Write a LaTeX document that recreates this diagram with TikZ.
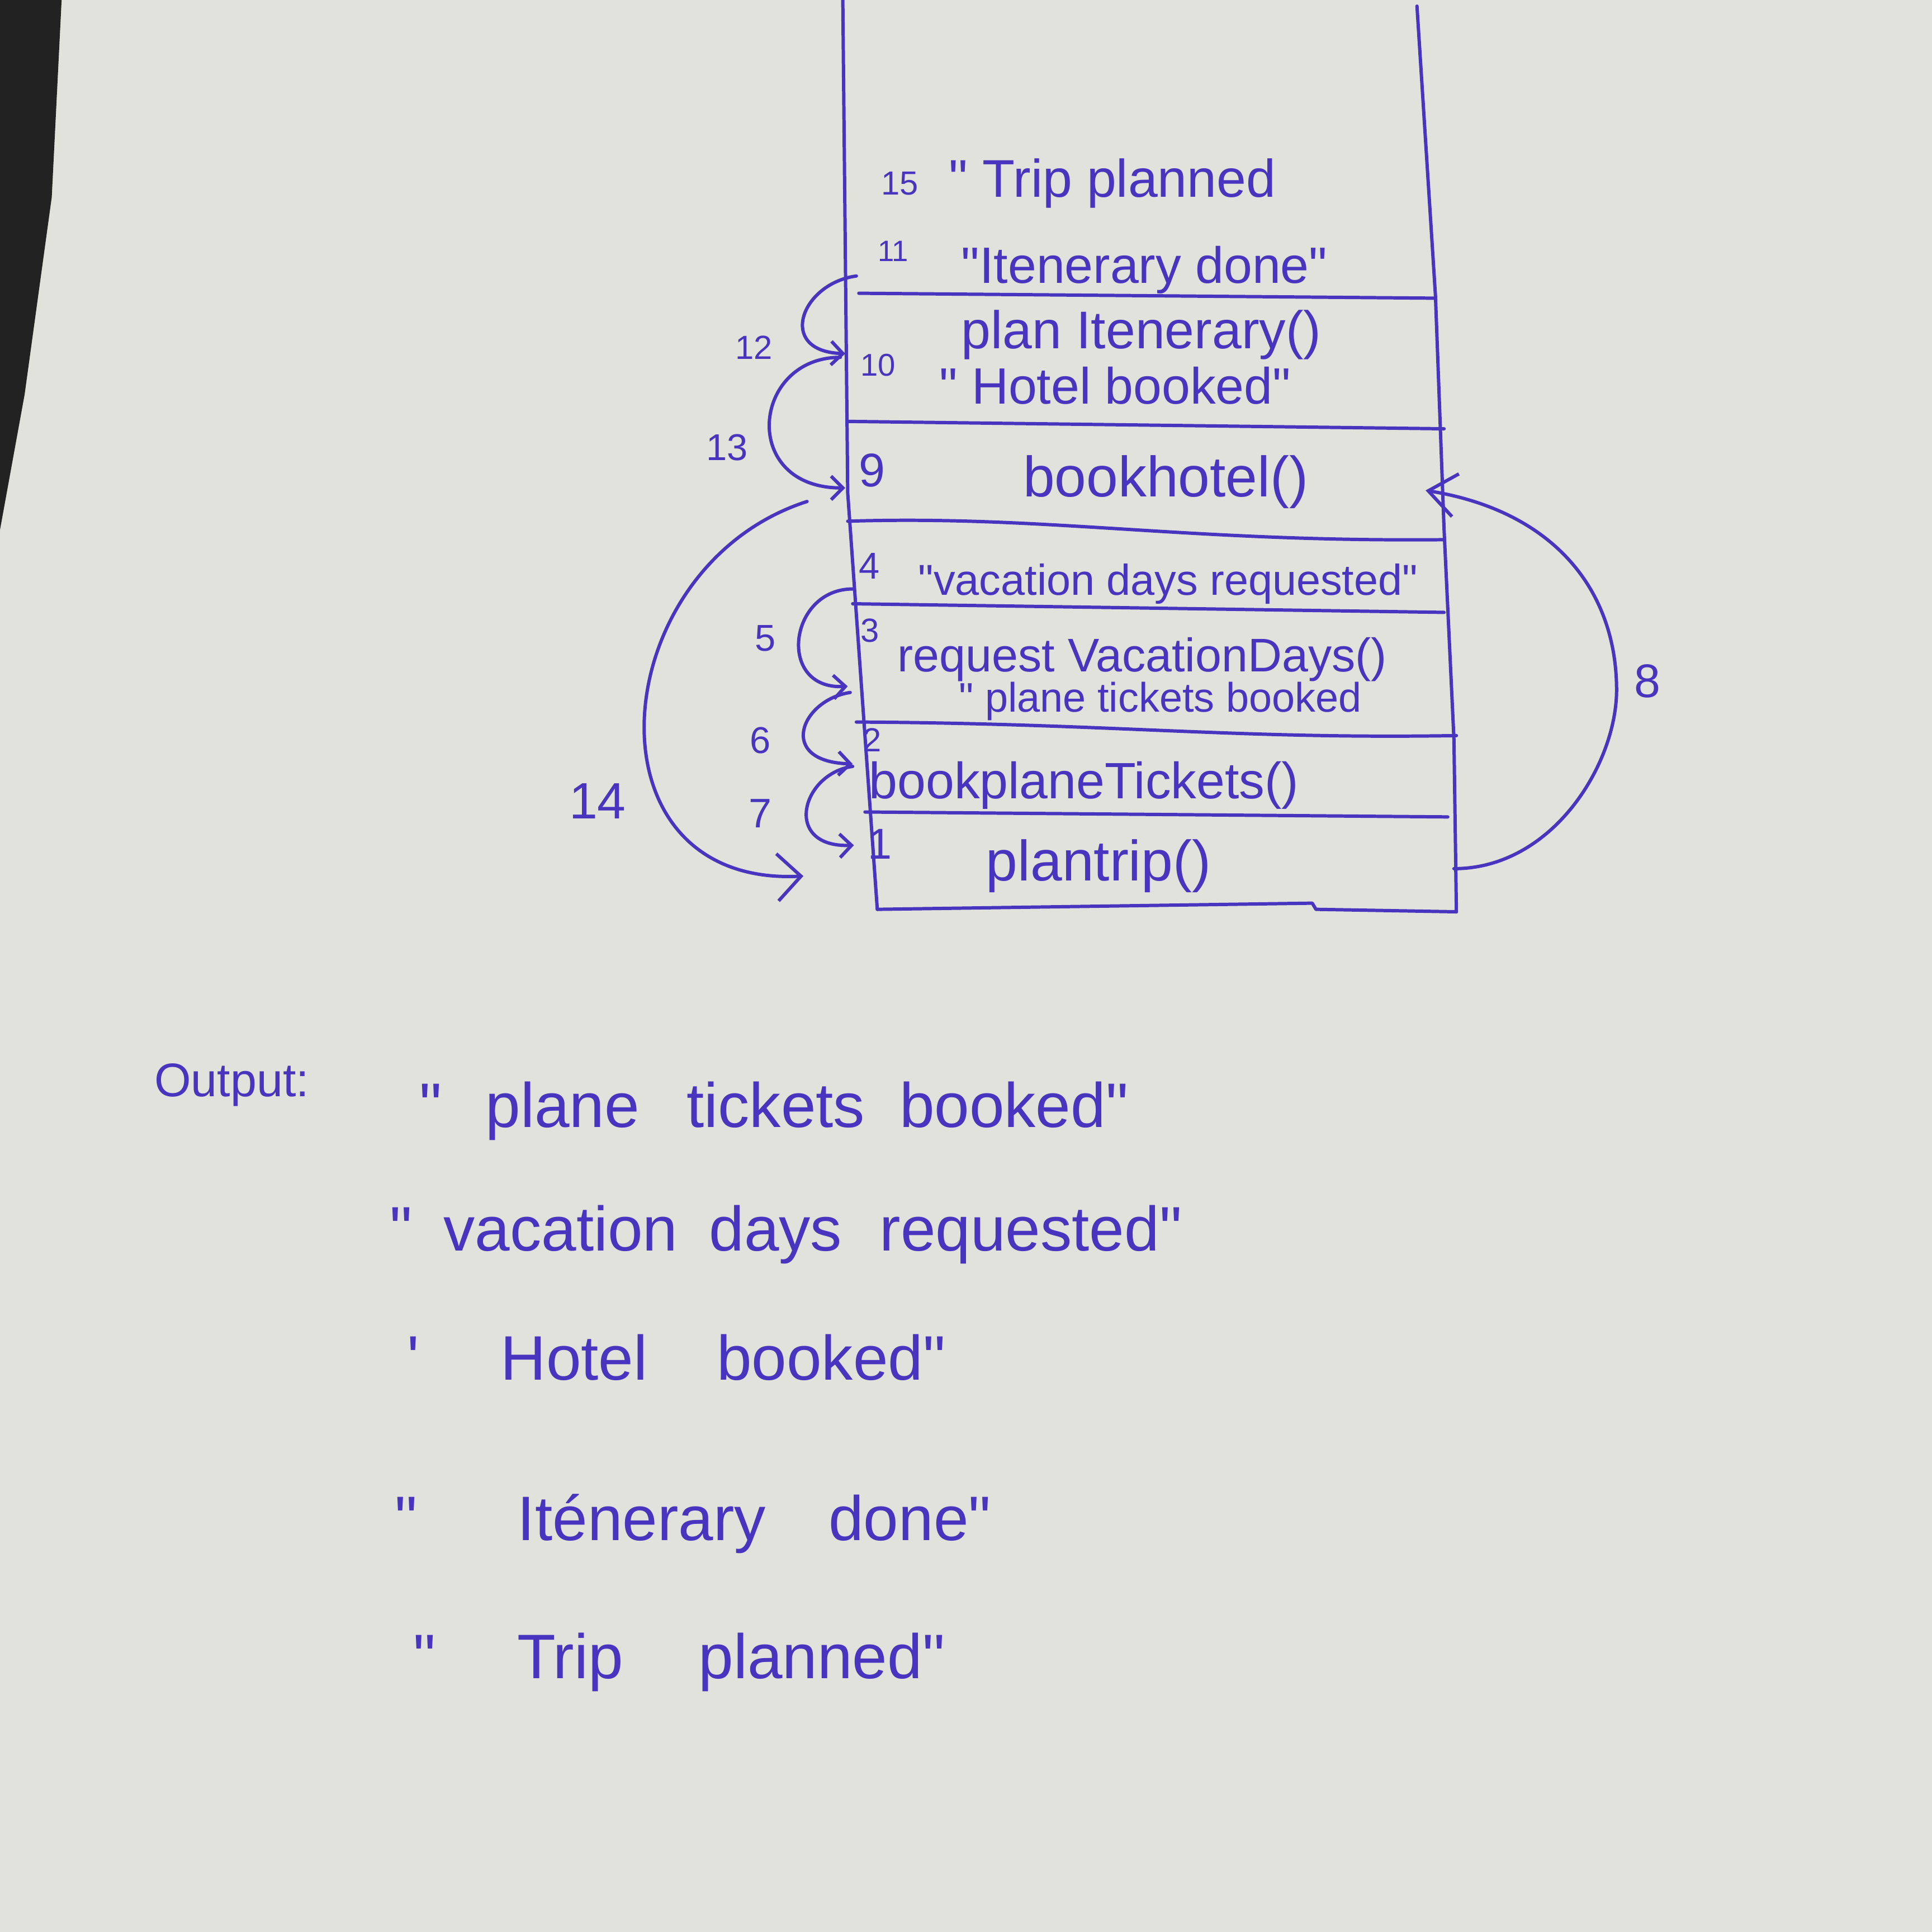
\documentclass[tikz,border=0pt]{standalone}
\usepackage{fontspec}
\setmainfont{Liberation Sans}[Ligatures=TeXOff]
\usetikzlibrary{arrows.meta}
\definecolor{ink}{RGB}{72,52,190}
\definecolor{paper}{RGB}{226,226,220}
\definecolor{darkbg}{RGB}{34,34,34}
\begin{document}
\begin{tikzpicture}[x=0.02204cm,y=-0.02204cm,
  pen/.style={draw=ink,line width=1.7pt,line cap=round,line join=round},
  arr/.style={pen,-{Straight Barb[length=6pt,width=12pt]}},
  bigarr/.style={pen,-{Straight Barb[length=12pt,width=24pt]}},
  txt/.style={anchor=base west,inner sep=0pt,text=ink},
  fsz/.style={font=\fontsize{#1}{#1}\selectfont},
  num/.style={anchor=base west,inner sep=0pt,text=ink},
  lab/.style={anchor=center,inner sep=0pt,text=ink}]
\useasboundingbox (0,0) rectangle (1568,1568);
\fill[paper] (0,0) rectangle (1568,1568);
\fill[darkbg] (0,0) -- (50,0) -- (42,160) -- (20,320) -- (0,430) -- cycle;

% ---------- stack frame ----------
\coordinate (LT) at (684,0);
\coordinate (LM) at (688,400);
\coordinate (LB) at (712,738);
\coordinate (RT) at (1150,5);
\coordinate (RM) at (1172,430);
\coordinate (RB) at (1182,740);
\draw[pen] (LT) -- (LM) -- (LB);
\draw[pen] (RT) -- (1165,240) -- (RM) -- (1180,600) -- (RB);
\draw[pen] (LB) -- (1065,733) -- (1068,738) -- (RB);
% separators
\draw[pen] (697,238) -- (1165,242);
\draw[pen] (688,342) -- (1172,348);
\draw[pen] (688,423) .. controls (850,418) and (960,440) .. (1172,438);
\draw[pen] (692,490) -- (1172,497);
\draw[pen] (695,586) .. controls (900,587) and (1000,600) .. (1182,597);
\draw[pen] (702,659) -- (1175,663);

% ---------- frame contents ----------
\node[num,fsz=17] (n15) at (715,158) {15};
\node[txt,fsz=27] (t15) at (770,160) {" Trip planned};
\node[num,fsz=15] (n11) at (712,212) {11};
\node[txt,fsz=26] (t11) at (780,230) {"Itenerary done"};
\node[txt,fsz=27] (tpi) at (780,283) {plan Itenerary()};
\node[num,fsz=16] (n10) at (698,305) {10};
\node[txt,fsz=26] (t10) at (762,328) {" Hotel booked"};
\node[num,fsz=24] (n9) at (697,395) {9};
\node[txt,fsz=29] (tbh) at (830,403) {bookhotel()};
\node[num,fsz=19] (n4) at (697,470) {4};
\node[txt,fsz=22] (t4) at (745,483) {"vacation days requested"};
\node[num,fsz=17] (n3) at (698,521) {3};
\node[txt,fsz=24] (trv) at (728,545) {request VacationDays()};
\node[txt,fsz=21] (t2) at (778,578) {" plane tickets booked};
\node[num,fsz=17] (n2) at (700,610) {2};
\node[txt,fsz=26] (tbp) at (705,648) {bookplaneTickets()};
\node[num,fsz=22] (n1) at (704,697) {1};
\node[txt,fsz=29] (tpt) at (800,715) {plantrip()};

% ---------- left arcs ----------
\coordinate (a12s) at (695,224);
\coordinate (a12e) at (686,287);
\coordinate (a13s) at (682,290);
\coordinate (a13e) at (686,396);
\coordinate (a14s) at (655,407);
\coordinate (a14e) at (652,711);
\coordinate (a5s) at (692,478);
\coordinate (a5e) at (688,557);
\coordinate (a6s) at (690,562);
\coordinate (a6e) at (692,620);
\coordinate (a7s) at (692,622);
\coordinate (a7e) at (693,686);
\draw[arr] (a12s) .. controls (650,230) and (630,285) .. (a12e);
\draw[arr] (a13s) .. controls (610,290) and (600,396) .. (a13e);
\draw[bigarr] (a14s) .. controls (490,460) and (470,720) .. (a14e);
\draw[arr] (a5s) .. controls (640,478) and (630,560) .. (a5e);
\draw[arr] (a6s) .. controls (650,568) and (630,618) .. (a6e);
\draw[arr] (a7s) .. controls (650,628) and (635,688) .. (a7e);
\node[lab,fsz=17] (l12) at (612,282) {12};
\node[lab,fsz=19] (l13) at (590,363) {13};
\node[lab,fsz=26] (l14) at (485,650) {14};
\node[lab,fsz=19] (l5) at (621,518) {5};
\node[lab,fsz=19] (l6) at (617,601) {6};
\node[lab,fsz=21] (l7) at (617,660) {7};

% ---------- right arc ----------
\coordinate (a8s) at (1180,705);
\coordinate (a8m) at (1312,560);
\coordinate (a8e) at (1157,398);
\draw[pen,-{Straight Barb[length=14pt,width=22pt]}] (a8s) .. controls (1260,705) and (1312,620) .. (a8m)
  .. controls (1312,480) and (1262,415) .. (a8e);
\node[lab,fsz=24] (l8) at (1337,553) {8};

% ---------- output ----------
\node[txt,fsz=24] (out) at (125,890) {Output:};
\node[txt,fsz=32] (o1) at (340,915) {"\hspace{0.7em}plane\hspace{0.75em}tickets\hspace{0.55em}booked"};
\node[txt,fsz=32] (o2) at (316,1015) {"\hspace{0.5em}vacation\hspace{0.5em}days\hspace{0.6em}requested"};
\node[txt,fsz=32] (o3) at (330,1120) {'\hspace{1.3em}Hotel\hspace{1.1em}booked"};
\node[txt,fsz=32] (o4) at (320,1250) {"\hspace{1.6em}Iténerary\hspace{1.0em}done"};
\node[txt,fsz=32] (o5) at (335,1362) {"\hspace{1.3em}Trip\hspace{1.2em}planned"};
\end{tikzpicture}
\end{document}
